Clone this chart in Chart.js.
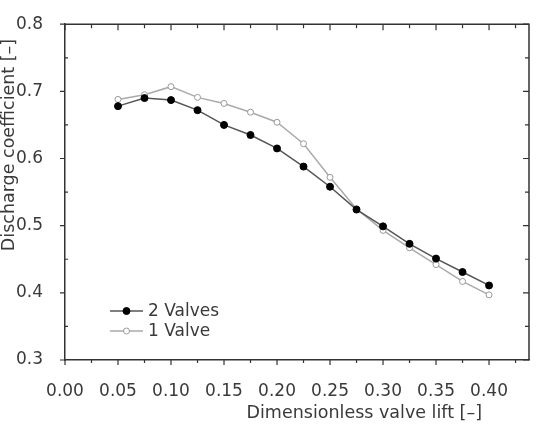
<!DOCTYPE html>
<html>
<head>
<meta charset="utf-8">
<script src="https://cdn.jsdelivr.net/npm/chart.js@4/dist/chart.umd.min.js"></script>
<style>
  html, body { margin: 0; padding: 0; background: #fff; }
  #wrap { width: 539px; height: 429px; }
</style>
</head>
<body>
<div id="wrap"><canvas id="myChart" width="539" height="429"></canvas></div>
<script>
// Data
const lift = [0.05, 0.075, 0.10, 0.125, 0.15, 0.175, 0.20, 0.225, 0.25, 0.275, 0.30, 0.325, 0.35, 0.375, 0.40];
const twoValves = [0.678, 0.690, 0.687, 0.672, 0.650, 0.635, 0.615, 0.588, 0.558, 0.524, 0.499, 0.473, 0.451, 0.431, 0.411];
const oneValve = [0.688, 0.695, 0.707, 0.691, 0.682, 0.669, 0.654, 0.622, 0.572, 0.525, 0.493, 0.467, 0.442, 0.417, 0.397];
const xTicks = [0, 0.05, 0.10, 0.15, 0.20, 0.25, 0.30, 0.35, 0.40];
const yTicks = [0.3, 0.4, 0.5, 0.6, 0.7, 0.8];
const xTitle = 'Dimensionless valve lift [\u2013]';
const yTitle = 'Discharge coefficient [\u2013]';

const FONT = '"DejaVu Sans", sans-serif';
const AXIS = '#333';
const TEXT = '#3a3a3a';

function pts(ys) {
    return lift.map(function (x, i) { return { x: x, y: ys[i] }; });
}

// box, minor ticks, axis titles and legend
const framePlugin = {
    id: 'frame',
    afterDraw: function (chart) {
        const ctx = chart.ctx;
        const a = chart.chartArea;
        const xs = chart.scales.x;
        const ys = chart.scales.y;
        ctx.save();
        ctx.strokeStyle = AXIS;
        ctx.lineWidth = 1.5;
        ctx.beginPath();
        ctx.moveTo(a.left, a.top);
        ctx.lineTo(a.right, a.top);
        ctx.lineTo(a.right, a.bottom);
        ctx.stroke();

        ctx.lineWidth = 1.2;
        ctx.beginPath();
        for (let i = 0; i <= 17; i++) {
            const v = i * 0.025;
            const px = xs.getPixelForValue(v);
            const major = i % 2 === 0;
            // bottom
            ctx.moveTo(px, a.bottom);
            ctx.lineTo(px, a.bottom + (major ? 5 : 3));
            // top, pointing in
            ctx.moveTo(px, a.top);
            ctx.lineTo(px, a.top + (major ? 6 : 4));
        }
        for (let j = 0; j <= 10; j++) {
            const v = 0.3 + j * 0.05;
            const py = ys.getPixelForValue(v);
            const major = j % 2 === 0;
            ctx.moveTo(a.left - (major ? 5 : 0), py);
            ctx.lineTo(a.left + (major ? 0 : 3), py);
            ctx.moveTo(a.right, py);
            ctx.lineTo(a.right - (major ? 6 : 4), py);
        }
        ctx.stroke();

        // axis titles
        ctx.fillStyle = TEXT;
        ctx.font = '17.5px ' + FONT;
        ctx.textAlign = 'right';
        ctx.textBaseline = 'middle';
        ctx.fillText(xTitle, 482, 413);
        ctx.save();
        ctx.translate(9, 145);
        ctx.rotate(-Math.PI / 2);
        ctx.textAlign = 'center';
        ctx.fillText(yTitle, 0, 0);
        ctx.restore();

        // legend
        const rows = [
            { ds: chart.data.datasets[0], y: 311 },
            { ds: chart.data.datasets[1], y: 331 }
        ];
        rows.forEach(function (r) {
            ctx.strokeStyle = r.ds.borderColor;
            ctx.lineWidth = r.ds.borderWidth;
            ctx.beginPath();
            ctx.moveTo(110, r.y);
            ctx.lineTo(143, r.y);
            ctx.stroke();
            ctx.beginPath();
            ctx.arc(126.5, r.y, r.ds.pointRadius, 0, Math.PI * 2);
            ctx.fillStyle = r.ds.pointBackgroundColor;
            ctx.fill();
            ctx.strokeStyle = r.ds.pointBorderColor;
            ctx.lineWidth = r.ds.pointBorderWidth;
            ctx.stroke();
            ctx.fillStyle = TEXT;
            ctx.textAlign = 'left';
            ctx.font = '17px ' + FONT;
            ctx.fillText(r.ds.label, 148, r.y + 1);
        });
        ctx.restore();
    }
};

const ctx = document.getElementById('myChart').getContext('2d');
const myChart = new Chart(ctx, {
    type: 'scatter',
    data: {
        datasets: [{
            label: '2 Valves',
            data: pts(twoValves),
            showLine: true,
            borderColor: '#555',
            borderWidth: 1.5,
            pointRadius: 3.5,
            pointBackgroundColor: '#000',
            pointBorderColor: '#000',
            pointBorderWidth: 1
        }, {
            label: '1 Valve',
            data: pts(oneValve),
            showLine: true,
            borderColor: '#aaa',
            borderWidth: 1.5,
            pointRadius: 3,
            pointBackgroundColor: '#fff',
            pointBorderColor: '#999',
            pointBorderWidth: 1
        }]
    },
    options: {
        responsive: false,
        animation: false,
        layout: { padding: { left: 0, right: 10, top: 17, bottom: 0 } },
        plugins: {
            legend: { display: false },
            tooltip: { enabled: false }
        },
        scales: {
            x: {
                type: 'linear',
                min: 0,
                max: 0.4377,
                afterBuildTicks: function (scale) {
                    scale.ticks = xTicks.map(function (v) { return { value: v }; });
                },
                afterFit: function (scale) { scale.height = 69; },
                grid: { display: false },
                border: { display: true, color: AXIS, width: 1.5 },
                ticks: {
                    color: TEXT,
                    font: { family: FONT, size: 17 },
                    padding: 13,
                    maxRotation: 0,
                    callback: function (v) { return v.toFixed(2); }
                }
            },
            y: {
                min: 0.3,
                max: 0.8,
                afterBuildTicks: function (scale) {
                    scale.ticks = yTicks.map(function (v) { return { value: v }; });
                },
                afterFit: function (scale) { scale.width = 65; },
                grid: { display: false },
                border: { display: true, color: AXIS, width: 1.5 },
                ticks: {
                    color: TEXT,
                    font: { family: FONT, size: 17 },
                    padding: 14,
                    callback: function (v) { return v.toFixed(1); }
                }
            }
        }
    },
    plugins: [framePlugin]
});
</script>
</body>
</html>
